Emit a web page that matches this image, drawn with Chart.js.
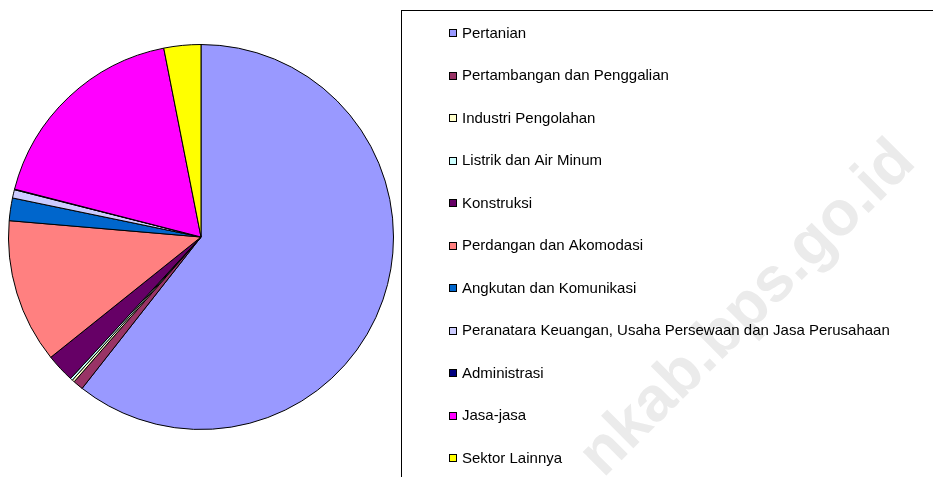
<!DOCTYPE html>
<html>
<head>
<meta charset="utf-8">
<script src="https://cdn.jsdelivr.net/npm/chart.js@4/dist/chart.umd.min.js"></script>
<style>
  html, body { margin: 0; padding: 0; background: #ffffff; overflow: hidden; }
  #wrap { width: 933px; height: 477px; position: relative; }
</style>
</head>
<body>
<div id="wrap"><canvas id="c" width="933" height="477"></canvas></div>
<script>
// Categories (sectors)
const categories = [
  "Pertanian",
  "Pertambangan dan Penggalian",
  "Industri Pengolahan",
  "Listrik dan Air Minum",
  "Konstruksi",
  "Perdangan dan Akomodasi",
  "Angkutan dan Komunikasi",
  "Peranatara Keuangan, Usaha Persewaan dan Jasa Perusahaan",
  "Administrasi",
  "Jasa-jasa",
  "Sektor Lainnya"
];
// Share values (%)
const shares = [60.6, 0.86, 0.2, 0.2, 2.4, 12.1, 1.9, 0.7, 0.05, 17.9, 3.1];
// Slice colours
const sliceColors = [
  "#9999FF", "#993366", "#FFFFCC", "#CCFFFF", "#660066",
  "#FF8080", "#0066CC", "#CCCCFF", "#000080", "#FF00FF", "#FFFF00"
];
const watermarkText = "nkab.bps.go.id";

const legendPlugin = {
  id: 'boxLegend',
  afterDraw(chart) {
    const ctx = chart.ctx;
    ctx.save();
    // watermark
    ctx.save();
    ctx.translate(748, 309);
    ctx.rotate(-Math.PI / 4);
    ctx.fillStyle = '#ebebeb';
    ctx.font = 'bold 63px "Liberation Sans", Arial, sans-serif';
    ctx.textAlign = 'center';
    ctx.textBaseline = 'middle';
    ctx.fillText(watermarkText, 0, 0);
    ctx.restore();
    // legend frame
    ctx.strokeStyle = '#000000';
    ctx.lineWidth = 1;
    ctx.strokeRect(401.5, 10.5, 600, 520);
    const labels = chart.data.labels;
    const ds = chart.data.datasets[0];
    ctx.font = '15px "Liberation Sans", Arial, sans-serif';
    ctx.textBaseline = 'middle';
    ctx.textAlign = 'left';
    for (let i = 0; i < labels.length; i++) {
      const cy = 33 + i * 42.5;
      const top = Math.round(cy - 4) + 0.5;
      ctx.fillStyle = ds.backgroundColor[i];
      ctx.fillRect(449.5, top, 7, 7);
      ctx.strokeStyle = '#000000';
      ctx.strokeRect(449.5, top, 7, 7);
      ctx.fillStyle = '#000000';
      ctx.fillText(labels[i], 462, cy + 0.5);
    }
    ctx.restore();
  }
};

new Chart(document.getElementById('c'), {
  type: 'pie',
  data: {
    labels: categories,
    datasets: [{
      data: shares,
      backgroundColor: sliceColors,
      borderColor: '#000000',
      borderWidth: 1,
      borderAlign: 'center'
    }]
  },
  options: {
    responsive: false,
    animation: false,
    events: [],
    layout: { padding: { left: 8, top: 44, right: 539, bottom: 47 } },
    plugins: {
      legend: { display: false },
      tooltip: { enabled: false }
    }
  },
  plugins: [legendPlugin]
});
</script>
</body>
</html>
